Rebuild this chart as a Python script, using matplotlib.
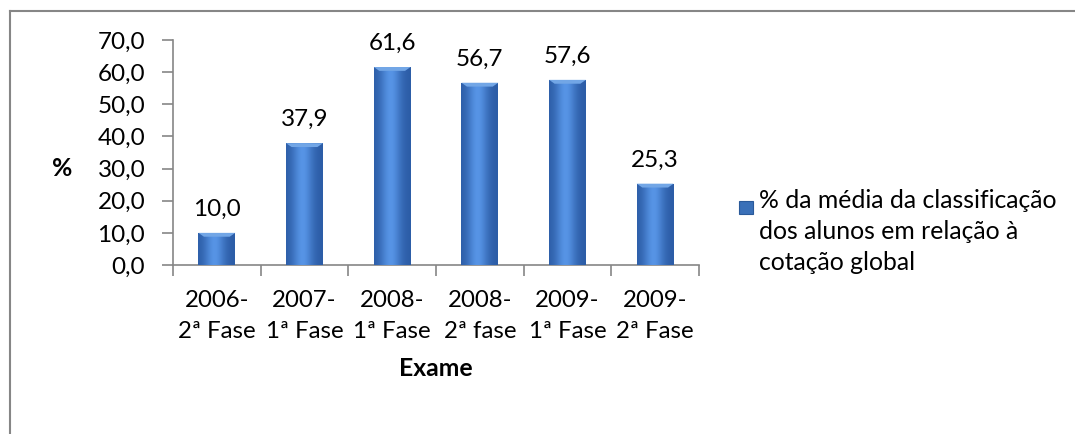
import numpy as np
import matplotlib
matplotlib.use("Agg")
import matplotlib.pyplot as plt
from matplotlib.lines import Line2D
from matplotlib.patches import Rectangle

categories = ["2006-\n2ª Fase", "2007-\n1ª Fase", "2008-\n1ª Fase",
              "2008-\n2ª fase", "2009-\n1ª Fase", "2009-\n2ª Fase"]
values = [10.0, 37.9, 61.6, 56.7, 57.6, 25.3]
yticks = [0, 10, 20, 30, 40, 50, 60, 70]
series_lines = ["% da média da classificação", "dos alunos em relação à", "cotação global"]

plt.rcParams['font.family'] = ['Lato', 'DejaVu Sans']
FS = 17.5
FC = 17.3
FL = 17.8

W, H = 1075, 434
fig = plt.figure(figsize=(W / 100, H / 100), dpi=100)
ax = fig.add_axes([173 / W, 1 - 265 / H, (699 - 173) / W, (265 - 40) / H])

x = np.arange(len(values))
bw = 0.42
bars = ax.bar(x, values, width=bw, color="#3a70b8", zorder=2)

# gradient shading inside bars
grad = np.linspace(0, 1, 64)
prof = np.exp(-((grad - 0.45) / 0.28) ** 2)
dark = np.array([0.17, 0.36, 0.65])
light = np.array([0.34, 0.58, 0.90])
img = dark[None, None, :] + (light - dark)[None, None, :] * prof[None, :, None]
for b in bars:
    x0, y0 = b.get_x(), b.get_y()
    w, h = b.get_width(), b.get_height()
    im = ax.imshow(img, extent=[x0, x0 + w, y0, y0 + h], aspect="auto",
                   zorder=3, interpolation="bilinear")
    im.set_clip_path(b)
    bev = min(1.2, h * 0.3)
    ax.add_patch(plt.Polygon([[x0, y0 + h], [x0 + w, y0 + h],
                              [x0 + w * 0.85, y0 + h - bev], [x0 + w * 0.15, y0 + h - bev]],
                             closed=True, color="#72a6e6", zorder=4, lw=0))

for xi, v in zip(x, values):
    ax.text(xi, v + 4.0, f"{v:.1f}".replace(".", ","), ha="center", va="bottom",
            fontsize=FS, color="black")

ax.set_xlim(-0.5, len(values) - 0.5)
ax.set_ylim(0, 70)
ax.set_yticks(yticks)
ax.set_yticklabels([f"{t:.1f}".replace(".", ",") for t in yticks], fontsize=FS)
ax.set_xticks(np.arange(len(values) + 1) - 0.5, minor=False)
ax.set_xticklabels([""] * (len(values) + 1))
ax.set_xticks(x, minor=True)
ax.set_xticklabels(categories, minor=True, fontsize=FC, linespacing=1.6)
ax.tick_params(axis="x", which="minor", length=0, pad=18)
ax.tick_params(axis="x", which="major", length=8, color="#868686", width=1.2)
ax.tick_params(axis="y", length=8, color="#868686", width=1.2, pad=12)
for s in ["top", "right"]:
    ax.spines[s].set_visible(False)
for s in ["left", "bottom"]:
    ax.spines[s].set_color("#868686")
    ax.spines[s].set_linewidth(1.2)

fig.text(62 / W, 1 - 168 / H, "%", fontsize=FL, fontweight="bold", ha="center", va="center")
fig.text(436 / W, 1 - 368 / H, "Exame", fontsize=FL, fontweight="bold", ha="center", va="center")

# legend
lx, ly = 739, 201
fig.patches.append(Rectangle((lx / W, 1 - (ly + 13) / H), 14 / W, 13 / H,
                             transform=fig.transFigure, facecolor="#3a70b8",
                             edgecolor="#2a5a9a", lw=0.8, figure=fig))
for i, line in enumerate(series_lines):
    fig.text(759 / W, 1 - (208 + 31 * i) / H, line, fontsize=FL, ha="left", va="baseline")

# outer border
bc = "#868686"
fig.add_artist(Line2D([10 / W, 10 / W], [0, 1 - 11 / H], color=bc, lw=1.5, transform=fig.transFigure))
fig.add_artist(Line2D([10 / W, 1], [1 - 11 / H, 1 - 11 / H], color=bc, lw=1.5, transform=fig.transFigure))

fig.savefig("out.png", dpi=100)
